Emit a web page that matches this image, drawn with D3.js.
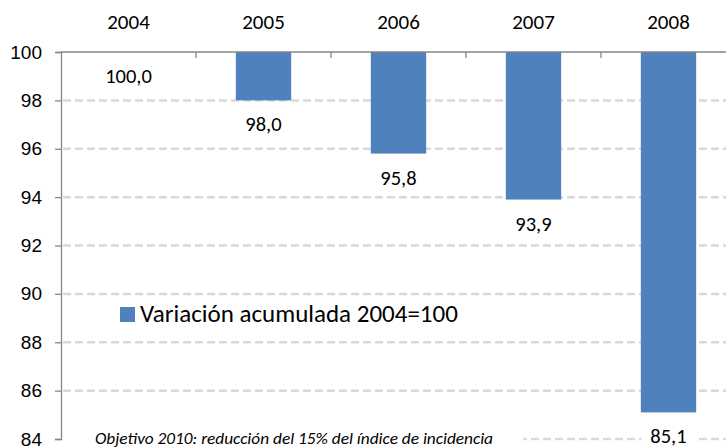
<!DOCTYPE html>
<html>
<head>
<meta charset="utf-8">
<script src="https://cdn.jsdelivr.net/npm/d3@7"></script>
<style>
  body { margin: 0; background: #fff; }
  svg { font-family: Carlito, "Liberation Sans Narrow", "Open Sans", sans-serif; }
</style>
</head>
<body>
<div id="chart"></div>
<script>
var years = ["2004", "2005", "2006", "2007", "2008"];
var values = [100.0, 98.0, 95.8, 93.9, 85.1];
var yTicks = [84, 86, 88, 90, 92, 94, 96, 98, 100];
var legendText = "Variación acumulada 2004=100";
var note = "Objetivo 2010:  reducción del 15% del índice de incidencia";

var w = 726;
var h = 448;
var left = 61;
var top0 = 52;
var bottom = 439;
var right = 736;

var svg = d3.select("#chart")
  .append("svg")
  .attr("width", w)
  .attr("height", h);

var xScale = d3.scaleBand()
  .domain(years)
  .range([left, right])
  .paddingInner(0.59)
  .paddingOuter(0.295);

var yScale = d3.scaleLinear()
  .domain([84, 100])
  .range([bottom, top0]);

// dashed gridlines
svg.append("g")
  .selectAll("line")
  .data(yTicks.filter(function(d) { return d < 100; }))
  .enter()
  .append("line")
  .attr("x1", left + 2)
  .attr("x2", w)
  .attr("y1", function(d) { return yScale(d); })
  .attr("y2", function(d) { return yScale(d); })
  .attr("stroke", "#d9d9d9")
  .attr("stroke-width", 2.5)
  .attr("stroke-dasharray", "8,4");

// bars hanging from 100
svg.append("g")
  .selectAll("rect")
  .data(values)
  .enter()
  .append("rect")
  .attr("x", function(d, i) { return xScale(years[i]); })
  .attr("y", yScale(100))
  .attr("width", xScale.bandwidth())
  .attr("height", function(d) { return yScale(d) - yScale(100); })
  .attr("fill", "#4f81bd");

// y axis
var yAxis = d3.axisLeft(yScale).tickValues(yTicks).tickSize(6).tickPadding(13);
var gy = svg.append("g")
  .attr("transform", "translate(" + left + ",0)")
  .call(yAxis);
gy.select(".domain").attr("stroke", "#868686").attr("stroke-width", 1.3);
gy.selectAll(".tick line").attr("stroke", "#868686").attr("stroke-width", 1.3);
gy.selectAll(".tick text").attr("font-size", 19).attr("fill", "#000");

// top category axis
svg.append("line")
  .attr("x1", left)
  .attr("x2", w)
  .attr("y1", top0)
  .attr("y2", top0)
  .attr("stroke", "#868686")
  .attr("stroke-width", 1.3);

svg.append("g")
  .selectAll("line")
  .data(years.slice(1))
  .enter()
  .append("line")
  .attr("x1", function(d) { return xScale(d) - xScale.step() * xScale.paddingInner() / 2; })
  .attr("x2", function(d) { return xScale(d) - xScale.step() * xScale.paddingInner() / 2; })
  .attr("y1", top0)
  .attr("y2", top0 + 6)
  .attr("stroke", "#868686")
  .attr("stroke-width", 1.3);

svg.append("g")
  .selectAll("text")
  .data(years)
  .enter()
  .append("text")
  .attr("x", function(d) { return xScale(d) + xScale.bandwidth() / 2; })
  .attr("y", 29)
  .attr("text-anchor", "middle")
  .attr("font-size", 21)
  .text(function(d) { return d; });

// annotation with white box over the 84 gridline
var noteG = svg.append("g");
noteG.append("rect")
  .attr("x", left + 2)
  .attr("y", bottom - 12)
  .attr("width", 460)
  .attr("height", 24)
  .attr("fill", "#fff");
noteG.append("text")
  .attr("x", 95)
  .attr("y", 444)
  .attr("font-size", 17)
  .attr("font-style", "italic")
  .attr("textLength", 398)
  .attr("lengthAdjust", "spacingAndGlyphs")
  .text(note);

// value labels
var labels = svg.append("g")
  .selectAll("g")
  .data(values)
  .enter()
  .append("g");

labels.append("rect")
  .attr("x", function(d, i) { return xScale(years[i]) + xScale.bandwidth() / 2 - 27; })
  .attr("y", function(d) { return yScale(d) + 14; })
  .attr("width", 54)
  .attr("height", 24)
  .attr("fill", "#fff");

labels.append("text")
  .attr("x", function(d, i) { return xScale(years[i]) + xScale.bandwidth() / 2; })
  .attr("y", function(d) { return yScale(d) + 31; })
  .attr("text-anchor", "middle")
  .attr("font-size", 20.5)
  .text(function(d) { return d.toFixed(1).replace(".", ","); });

// legend
svg.append("rect")
  .attr("x", 120)
  .attr("y", 307)
  .attr("width", 15)
  .attr("height", 15)
  .attr("fill", "#4f81bd");
svg.append("text")
  .attr("x", 140)
  .attr("y", 322)
  .attr("font-size", 25)
  .text(legendText);
</script>
</body>
</html>
